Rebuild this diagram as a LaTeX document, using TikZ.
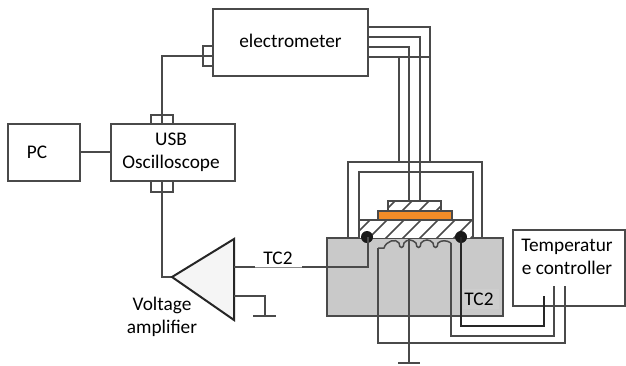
\documentclass[tikz,border=0pt]{standalone}
\usepackage{fontspec}
\setmainfont{Carlito}
\definecolor{wire}{HTML}{4A4A4A}
\definecolor{blockgrey}{HTML}{C9C9C9}
\definecolor{heat}{HTML}{F28C28}
\tikzset{
  x=1pt,y=-1pt,
  wireline/.style={draw=wire,line width=1.9pt,line join=miter},
  box/.style={draw=wire,line width=1.9pt,fill=white,rectangle,inner sep=0pt,outer sep=0pt,align=center,font=\fontsize{19.3}{23}\selectfont,text=black},
  txt/.style={inner sep=0pt,outer sep=0pt,align=center,font=\fontsize{19.3}{23}\selectfont,text=black},
  hatchline/.style={draw=wire,line width=1.6pt},
  tcdot/.style={circle,fill=black!90,inner sep=0pt,minimum size=12pt},
}
\begin{document}
\begin{tikzpicture}
\useasboundingbox (0,0) rectangle (626,365);
% body of the heater block
\node[box,fill=blockgrey,minimum width=176pt,minimum height=78pt] (block) at (415,277) {};
% frames
\coordinate (ofl) at (348,238); \coordinate (oft) at (348,162); \coordinate (oftr) at (482,162); \coordinate (ofr) at (482,238);
\coordinate (ifl) at (359,220); \coordinate (ift) at (359,172); \coordinate (iftr) at (473,172); \coordinate (ifr) at (473,220);
\draw[wireline] (ofl) -- (oft) -- (oftr) -- (ofr);
\draw[wireline] (ifl) -- (ift) -- (iftr) -- (ifr);
% lower hatched plate
\node[rectangle,minimum width=114pt,minimum height=18pt,inner sep=0pt,outer sep=0pt,fill=white] (plate) at (416,229) {};
\begin{scope}
\clip (plate.north west) rectangle (plate.south east);
\foreach \i in {0,...,7} {\draw[hatchline] (350+17*\i,240) -- (372+17*\i,218);}
\end{scope}
\draw[wireline] (plate.north west) -- (plate.north east);
\draw[wireline] (plate.north west) -- (plate.south west);
\draw[wireline] (plate.north east) -- (plate.south east);
% upper hatched plate
\node[rectangle,minimum width=53pt,minimum height=10pt,inner sep=0pt,outer sep=0pt,fill=white] (top) at (414.5,206) {};
\begin{scope}
\clip (top.north west) rectangle (top.south east);
\foreach \i in {0,...,4} {\draw[hatchline] (384+17*\i,212) -- (396+17*\i,200);}
\end{scope}
\draw[wireline] (top.south west) -- (top.north west) -- (top.north east) -- (top.south east);
% sample
\node[rectangle,draw=wire,line width=1.4pt,fill=heat,minimum width=74pt,minimum height=9pt,inner sep=0pt,outer sep=0pt] (sample) at (415,215.5) {};
% electrometer and its connector
\node[box,minimum width=155pt,minimum height=67pt] (elec) at (290.5,42.5) {\raisebox{2.5pt}{electrometer}};
\node[box,fill=none,minimum width=10pt,minimum height=20pt] (elecport) at (208,56) {};
% oscilloscope
\node[box,minimum width=124pt,minimum height=57pt] (usb) at (173,152.5) {\hspace{-4pt}\raisebox{-2pt}{\begin{tabular}{@{}c@{}}USB\\Oscilloscope\end{tabular}}};
\node[box,fill=none,minimum width=22pt,minimum height=9pt] (usbtop) at (162,119.5) {};
\node[box,fill=none,minimum width=22pt,minimum height=11pt] (usbbot) at (162,186.5) {};
% PC
\node[box,minimum width=72pt,minimum height=57pt] (pc) at (44,152.5) {PC\hspace{14pt}};
\draw[wireline] ([yshift=.5pt]pc.east) -- ([yshift=.5pt]usb.west);
% amplifier
\coordinate (amptip) at (172,277); \coordinate (amptop) at (234,239); \coordinate (ampbot) at (234,320);
\coordinate (ampin) at (234,267); \coordinate (ampgnd) at (234,296);
\draw[wireline] (usbbot.north) -- (162,277) -- (amptip);
\draw[draw=black!85,line width=2pt,fill=black!4,line join=miter] (amptip) -- (amptop) -- (ampbot) -- cycle;
\node[txt] (amplabel) at (162,317) {Voltage\\amplifier};
% amplifier ground
\coordinate (gndA) at (265,316); \coordinate (gndAl) at (253,316); \coordinate (gndAr) at (276,316);
\draw[wireline] (ampgnd) -- (265,296) -- (gndA);
\draw[wireline] (gndAl) -- (gndAr);
% elec to oscilloscope
\draw[wireline] (elec.west |- elecport) -- (162,56) -- (usbtop.south);
% electrometer wires
\coordinate (wa) at (elec.east |- 0,27); \coordinate (wb) at (elec.east |- 0,37);
\coordinate (wc) at (elec.east |- 0,47); \coordinate (wd) at (elec.east |- 0,57);
\draw[wireline] (wa) -- (430,27) -- (430,162);
\draw[wireline] (wb) -- (420,37) -- (420,201);
\draw[wireline] (wc) -- (409,47) -- (409,201);
\draw[wireline] (wd) -- (430,57);
\draw[wireline] (399,57) -- (399,162);
% thermocouple dots
\node[tcdot] (tcl) at (367,237) {};
\node[tcdot] (tcr) at (461,237) {};
% TC2 line (left)
\draw[wireline] (ampin) -- (368,267) -- (368,237);
\node[rectangle,fill=white,minimum width=47pt,minimum height=20pt,inner sep=0pt,outer sep=0pt] (tcwhite) at (278.5,257.6) {};
\draw[draw=black!45,line width=.5pt] (tcwhite.south west) -- (tcwhite.south east);
\node[txt] (tc2a) at (278,258) {TC2};
% temperature controller
\node[box,minimum width=112pt,minimum height=76pt] (ctrl) at (569,268) {};
\node[txt] (ctrllabel) at (567,257) {Temperatur\\e controller};
% controller wires
\coordinate (ca) at (544,296); \coordinate (cb) at (554,286); \coordinate (cc) at (565,286);
\draw[draw=black!85,line width=1.9pt] (tcr.center) -- (461,326) -- (544,326) -- (ca);
\node[rectangle,fill=blockgrey!92!white,minimum width=36pt,minimum height=20pt,inner sep=0pt,outer sep=0pt,anchor=north west] (tc2patch) at (462.5,289) {};
\node[txt] (tc2b) at (479,299) {TC2};
\draw[wireline] (451,243) -- (451,336) -- (554,336) -- (cb);
\draw[wireline] (378,248) -- (378,343) -- (565,343) -- (cc);
% heater coil
\draw[wireline,line width=1.5pt] (378,248) -- (384,248)
  .. controls (386,241) and (396,238) .. (399,243)
  .. controls (399,249) and (404,249) .. (404,243)
  .. controls (407,239) and (412,239) .. (416,243)
  .. controls (416,249) and (421,249) .. (421,243)
  .. controls (424,239) and (430,239) .. (433,243)
  .. controls (433,249) and (438,249) .. (438,243)
  .. controls (441,240) and (447,240) .. (451,243);
% central ground
\coordinate (gndB) at (409,363);
\draw[wireline] (409,238) -- (gndB);
\draw[wireline] (398,363) -- (420,363);
\end{tikzpicture}
\end{document}
